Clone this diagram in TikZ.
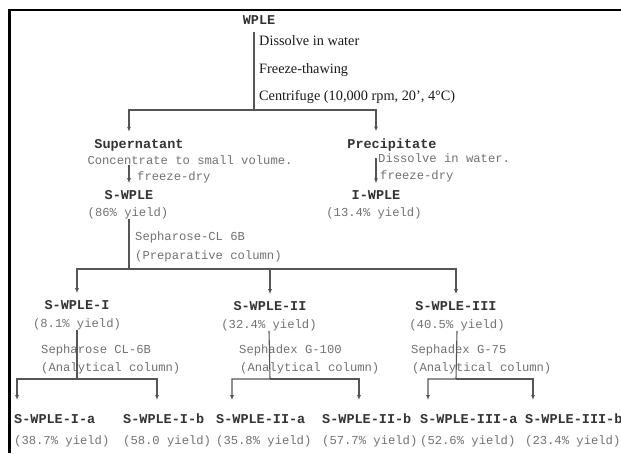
\documentclass[tikz,border=0pt]{standalone}
\usepackage{fontspec}
\setmainfont{Liberation Serif}
\setmonofont{Liberation Mono}
\usetikzlibrary{arrows.meta}
\definecolor{linegray}{HTML}{555555}
\definecolor{notegray}{HTML}{727272}
\definecolor{lblgray}{HTML}{333333}
\definecolor{stepblack}{HTML}{1A1A1A}

\begin{document}
\begin{tikzpicture}[x=1pt, y=-1pt,
  lbl/.style={font=\ttfamily\bfseries\fontsize{13.5}{14}\selectfont, text=lblgray, inner xsep=0pt, inner ysep=7pt},
  note/.style={font=\ttfamily\fontsize{12.2}{13}\selectfont, text=notegray, inner sep=0pt},
  stepnote/.style={font=\fontsize{14.3}{15}\selectfont, text=stepblack, anchor=west, inner sep=0pt},
  flow/.style={draw=linegray, line width=1.1pt},
  arr/.style={flow, -{Latex[length=5pt,width=4pt]}}]
\useasboundingbox[fill=white] (0,0) rectangle (621,453);
% frame
\draw[line width=2.2pt] (9.5,453) -- (9.5,10.3) -- (621,10.3);
% extraction
\node[lbl] (wple) at (259,20) {WPLE};
\node[stepnote] (dis) at (259,41) {Dissolve in water};
\node[stepnote] (frz) at (259,70) {Freeze-thawing};
\node[stepnote] (cen) at (259,97) {Centrifuge (10,000 rpm, 20', 4°C)};
\coordinate (split) at (254,110);
% supernatant branch
\node[lbl] (sup) at (139,145) {Supernatant};
\node[note] (conc) at (190,160) {Concentrate to small volume.};
\node[note, anchor=west] (fd1) at (137,177) {freeze-dry};
\node[lbl] (swple) at (129,195) {S-WPLE};
\node[note] (syld) at (128,213) {(86\% yield)};
% precipitate branch
\node[lbl] (prec) at (392,145) {Precipitate};
\node[note, anchor=west] (diss2) at (378,158) {Dissolve in water.};
\node[note, anchor=west] (fd2) at (380,176) {freeze-dry};
\node[lbl] (iwple) at (376,195) {I-WPLE};
\node[note] (iyld) at (374,213) {(13.4\% yield)};
\draw[flow] (wple.south -| split) -- (split);
\draw[arr] (split) -| (swple.north |- sup.north);
\draw[arr] (split) -| (iwple.north |- prec.north);
\draw[arr] (conc.south -| swple.north) -- (swple.north);
\draw[arr] (prec.south -| iwple.north) -- (iwple.north);
% preparative column
\node[note, anchor=west] (sep) at (135,237) {Sepharose-CL 6B};
\node[note, anchor=west] (prep) at (135,256) {(Preparative column)};
\coordinate (prepbar) at (129,269);
\node[lbl] (sI) at (77,305) {S-WPLE-I};
\node[note] (sIy) at (77,324) {(8.1\% yield)};
\node[lbl] (sII) at (270,306) {S-WPLE-II};
\node[note] (sIIy) at (269,325) {(32.4\% yield)};
\node[lbl] (sIII) at (456,306) {S-WPLE-III};
\node[note] (sIIIy) at (457,325) {(40.5\% yield)};
\draw[flow] (syld.south -| prepbar) -- (prepbar);
\foreach \n in {sI,sII,sIII} \draw[arr] (prepbar) -| (\n.north);
% analytical columns
\node[note, anchor=west] (colI) at (41,350) {Sepharose CL-6B};
\node[note, anchor=west] (anaI) at (41,368) {(Analytical column)};
\node[note, anchor=west] (colII) at (239,350) {Sephadex G-100};
\node[note, anchor=west] (anaII) at (240,368) {(Analytical column)};
\node[note, anchor=west] (colIII) at (411,350) {Sephadex G-75};
\node[note, anchor=west] (anaIII) at (412,368) {(Analytical column)};
\foreach \n/\x/\ax/\t/\y in {Ia/14/17/S-WPLE-I-a/38.7\%, Ib/123/157/S-WPLE-I-b/58.0,
    IIa/216/232/S-WPLE-II-a/35.8\%, IIb/322/359/S-WPLE-II-b/57.7\%,
    IIIa/420/428/S-WPLE-III-a/52.6\%, IIIb/525/533/S-WPLE-III-b/23.4\%}{
  \node[lbl, anchor=west] (\n) at (\x,419) {\t};
  \node[note, anchor=west] (\n y) at (\x,441) {(\y{} yield)};
  \coordinate (\n tip) at (\ax,400);
}
\foreach \s/\b in {sI/I,sII/II,sIII/III}{
  \coordinate (bar\b) at (\s.center |- 0,379);
  \draw[arr] (\s y.south) -- (bar\b) -| (\b atip);
  \draw[arr] (bar\b) -| (\b btip);
}
\end{tikzpicture}
\end{document}
